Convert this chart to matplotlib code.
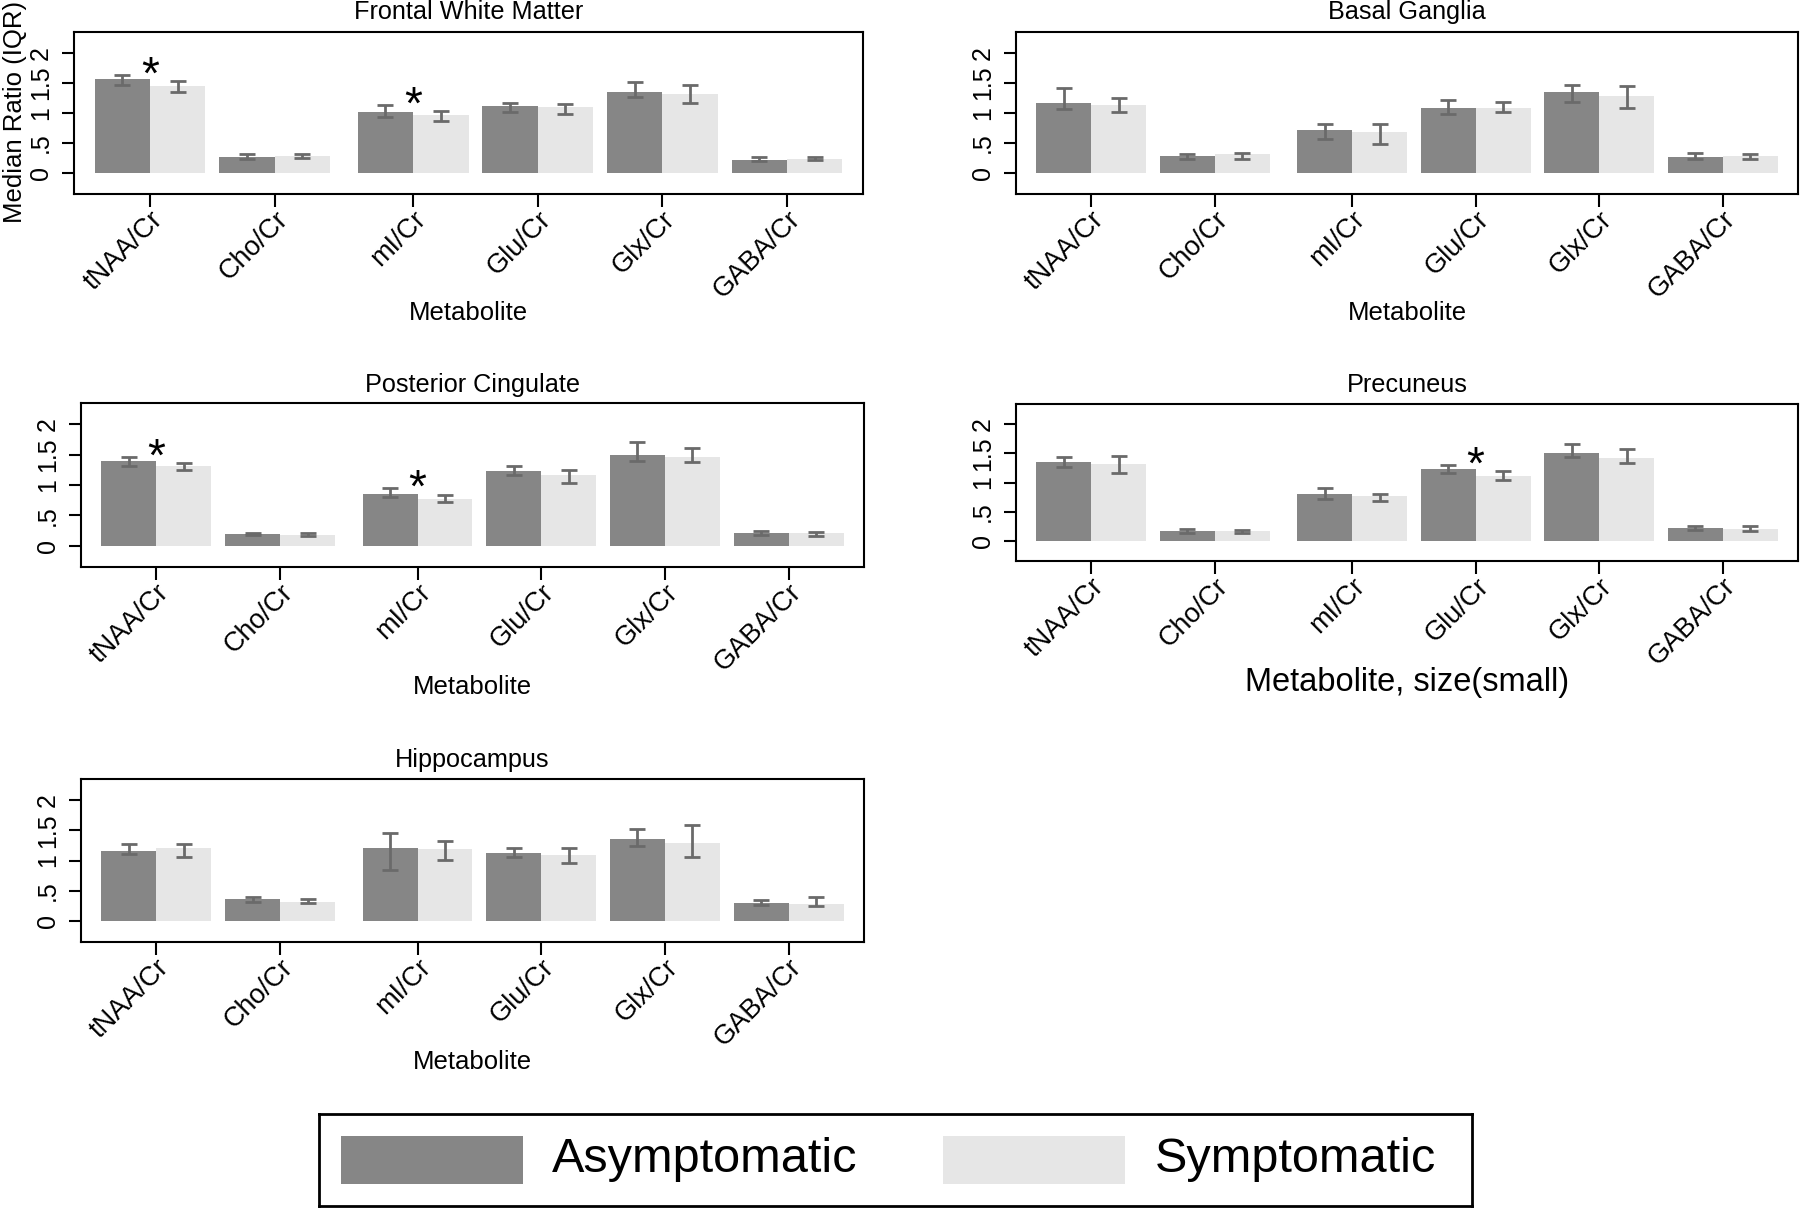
import numpy as np
import matplotlib
matplotlib.use("Agg")
import matplotlib.pyplot as plt
from matplotlib.patches import Rectangle

plt.rcParams['font.family'] = ['Liberation Sans', 'DejaVu Sans']

# ---------------- data ----------------
metabolites = ["tNAA/Cr", "Cho/Cr", "mI/Cr", "Glu/Cr", "Glx/Cr", "GABA/Cr"]
groups = ["Asymptomatic", "Symptomatic"]

# Frontal White Matter
fwm_asym = [1.56, 0.275, 1.025, 1.12, 1.345, 0.22]
fwm_asym_lo = [1.47, 0.23, 0.94, 1.02, 1.27, 0.20]
fwm_asym_hi = [1.64, 0.325, 1.13, 1.16, 1.525, 0.27]
fwm_symp = [1.45, 0.29, 0.97, 1.10, 1.315, 0.24]
fwm_symp_lo = [1.35, 0.25, 0.865, 0.985, 1.16, 0.21]
fwm_symp_hi = [1.54, 0.325, 1.035, 1.155, 1.46, 0.275]
fwm_sig = ["tNAA/Cr", "mI/Cr"]

# Basal Ganglia
bg_asym = [1.17, 0.28, 0.71, 1.085, 1.35, 0.265]
bg_asym_lo = [1.065, 0.24, 0.56, 0.99, 1.19, 0.23]
bg_asym_hi = [1.42, 0.325, 0.825, 1.22, 1.475, 0.34]
bg_symp = [1.135, 0.31, 0.685, 1.09, 1.29, 0.285]
bg_symp_lo = [1.02, 0.24, 0.485, 1.01, 1.09, 0.24]
bg_symp_hi = [1.255, 0.33, 0.81, 1.185, 1.45, 0.32]
bg_sig = []

# Posterior Cingulate
pc_asym = [1.395, 0.20, 0.855, 1.23, 1.50, 0.215]
pc_asym_lo = [1.31, 0.17, 0.81, 1.16, 1.395, 0.18]
pc_asym_hi = [1.46, 0.215, 0.945, 1.31, 1.715, 0.24]
pc_symp = [1.315, 0.175, 0.775, 1.16, 1.465, 0.205]
pc_symp_lo = [1.245, 0.155, 0.715, 1.04, 1.38, 0.16]
pc_symp_hi = [1.36, 0.215, 0.835, 1.255, 1.605, 0.23]
pc_sig = ["tNAA/Cr", "mI/Cr"]

# Precuneus
pr_asym = [1.355, 0.165, 0.80, 1.24, 1.51, 0.22]
pr_asym_lo = [1.275, 0.13, 0.72, 1.17, 1.43, 0.19]
pr_asym_hi = [1.43, 0.205, 0.90, 1.30, 1.665, 0.255]
pr_symp = [1.32, 0.165, 0.775, 1.12, 1.425, 0.20]
pr_symp_lo = [1.165, 0.14, 0.68, 1.05, 1.335, 0.17]
pr_symp_hi = [1.45, 0.19, 0.81, 1.20, 1.575, 0.245]
pr_sig = ["Glu/Cr"]

# Hippocampus
hc_asym = [1.15, 0.36, 1.21, 1.12, 1.355, 0.30]
hc_asym_lo = [1.115, 0.31, 0.84, 1.065, 1.24, 0.27]
hc_asym_hi = [1.275, 0.40, 1.46, 1.21, 1.53, 0.345]
hc_symp = [1.215, 0.31, 1.185, 1.095, 1.29, 0.275]
hc_symp_lo = [1.05, 0.295, 1.015, 0.96, 1.05, 0.24]
hc_symp_hi = [1.275, 0.365, 1.33, 1.21, 1.585, 0.395]
hc_sig = []

yticks = [0, 0.5, 1, 1.5, 2]
ytick_labels = ["0", ".5", "1", "1.5", "2"]

# ---------------- style ----------------
C_ASYM = "#868686"
C_SYMP = "#e6e6e6"
C_ERR = "#6a6a6a"

W, H = 1800, 1208
fig = plt.figure(figsize=(W / 100, H / 100), dpi=100)


def rect(l, t, r, b):
    return [l / W, 1 - b / H, (r - l) / W, (b - t) / H]


# group positions: one bar width = 1 unit, extra gap after Cho/Cr
steps = [0, 2.25, 2.5, 2.25, 2.25, 2.25]
pos = np.cumsum(steps)

panels = [
    ("Frontal White Matter", (74, 32, 863, 194), 12, 313, "Metabolite", 18.5,
     fwm_asym, fwm_asym_lo, fwm_asym_hi, fwm_symp, fwm_symp_lo, fwm_symp_hi, fwm_sig),
    ("Basal Ganglia", (1016, 32, 1798, 194), 12, 313, "Metabolite", 18.5,
     bg_asym, bg_asym_lo, bg_asym_hi, bg_symp, bg_symp_lo, bg_symp_hi, bg_sig),
    ("Posterior Cingulate", (81, 403, 864, 567), 385, 687, "Metabolite", 18.5,
     pc_asym, pc_asym_lo, pc_asym_hi, pc_symp, pc_symp_lo, pc_symp_hi, pc_sig),
    ("Precuneus", (1016, 404, 1798, 561), 385, 683, "Metabolite, size(small)", 23.5,
     pr_asym, pr_asym_lo, pr_asym_hi, pr_symp, pr_symp_lo, pr_symp_hi, pr_sig),
    ("Hippocampus", (81, 779, 864, 942), 760, 1062, "Metabolite", 18.5,
     hc_asym, hc_asym_lo, hc_asym_hi, hc_symp, hc_symp_lo, hc_symp_hi, hc_sig),
]

for (title, box, ty, xy, xlab, xlab_fs, a, alo, ahi, s, slo, shi, sig) in panels:
    ax = fig.add_axes(rect(*box))
    a = np.array(a); alo = np.array(alo); ahi = np.array(ahi)
    s = np.array(s); slo = np.array(slo); shi = np.array(shi)
    ax.bar(pos - 0.5, a, width=1.0, color=C_ASYM, zorder=2)
    ax.bar(pos + 0.5, s, width=1.0, color=C_SYMP, zorder=2)
    ax.errorbar(pos - 0.5, a, yerr=[a - alo, ahi - a], fmt='none', ecolor=C_ERR,
                elinewidth=2.0, capsize=6, capthick=2.0, zorder=3)
    ax.errorbar(pos + 0.5, s, yerr=[s - slo, shi - s], fmt='none', ecolor=C_ERR,
                elinewidth=2.0, capsize=6, capthick=2.0, zorder=3)
    for m in sig:
        i = metabolites.index(m)
        ax.text(pos[i], ahi[i] - 0.03, "*", ha='center', va='center', fontsize=33,
                color='black', zorder=4)
    ax.set_xlim(pos[0] - 1.37, pos[-1] + 1.37)
    ax.set_ylim(-0.35, 2.35)
    ax.set_yticks(yticks)
    ax.set_yticklabels(ytick_labels, rotation=90, va='center', fontsize=18)
    ax.set_xticks(pos)
    ax.set_xticklabels(metabolites, rotation=45, ha='right', va='top',
                       rotation_mode='anchor', fontsize=19.5)
    ax.tick_params(axis='both', direction='out', length=9, width=1.5, color='black')
    ax.tick_params(axis='y', pad=6)
    ax.tick_params(axis='x', pad=0)
    for sp in ax.spines.values():
        sp.set_linewidth(1.5)
    cx = (box[0] + box[2]) / 2
    fig.text(cx / W, 1 - ty / H, title, ha='center', va='center', fontsize=18.2)
    fig.text(cx / W, 1 - xy / H, xlab, ha='center', va='center', fontsize=xlab_fs)

fig.text(15 / W, 1 - 112 / H, "Median Ratio (IQR)", rotation=90, ha='center',
         va='center', fontsize=18.5)

# legend box
lax = fig.add_axes(rect(319, 1114, 1472, 1206))
lax.set_xlim(319, 1472)
lax.set_ylim(1206, 1114)
lax.set_xticks([])
lax.set_yticks([])
for sp in lax.spines.values():
    sp.set_linewidth(2.0)
lax.add_patch(Rectangle((341, 1136), 182, 48, facecolor=C_ASYM, edgecolor='none'))
lax.add_patch(Rectangle((943, 1136), 182, 48, facecolor=C_SYMP, edgecolor='none'))
lax.text(552, 1160, groups[0], ha='left', va='center', fontsize=35)
lax.text(1155, 1160, groups[1], ha='left', va='center', fontsize=35)

fig.savefig("out.png", dpi=100)
